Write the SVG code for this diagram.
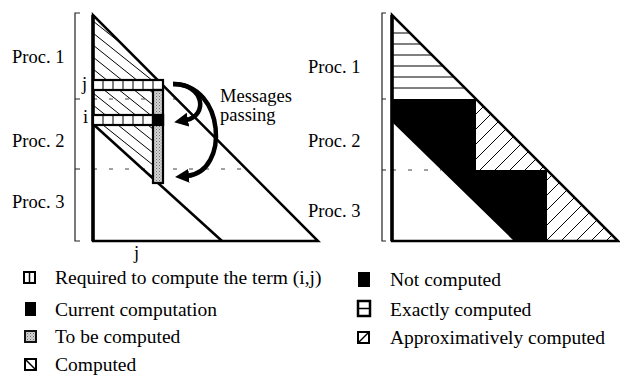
<svg xmlns="http://www.w3.org/2000/svg" width="620" height="380" viewBox="0 0 620 380">
<style>
text{font-family:"Liberation Serif","Times New Roman",serif;fill:#000}
.lbl{font-size:18.5px}
.leg{font-size:19.5px}
.msg{font-size:18.5px}
.edge{fill:none;stroke:#000;stroke-width:2.5;stroke-linejoin:miter}
.thin{stroke:#000;stroke-width:1;fill:none}
.dash{stroke:#444;stroke-width:1;stroke-dasharray:4 12;fill:none}
.br{stroke:#222;stroke-width:1.2;fill:none}
.arr{fill:none;stroke:#000;stroke-width:4.5;marker-end:url(#ah)}
.cell{fill:#fff;stroke:#000;stroke-width:2.2}
</style>
<defs>
<marker id="ah" markerUnits="userSpaceOnUse" markerWidth="14" markerHeight="14" refX="2" refY="7" orient="auto">
<path d="M0,0 L14,7 L0,14 z" fill="#000"/>
</marker>
<pattern id="stip" patternUnits="userSpaceOnUse" width="3" height="3">
<rect width="3" height="3" fill="#d4d4d4"/>
<rect x="0" y="0" width="1" height="1" fill="#6a6a6a"/>
<rect x="1.5" y="1.5" width="1" height="1" fill="#8a8a8a"/>
</pattern>
<clipPath id="cHatchL"><polygon points="93,15 153,75 153,178 93,124"/></clipPath>
<clipPath id="cTri1"><polygon points="476,99 476,170 547,170"/></clipPath>
<clipPath id="cTri2"><polygon points="547,170 547,241 618,241"/></clipPath>
</defs>

<!-- Left figure -->
<g id="left-figure">
<g id="left-scale">
<path class="br" d="M80,13 H75 V241 H80 M75,99 H80 M75,169 H80"/>
<text class="lbl" x="12" y="63">Proc. 1</text>
<text class="lbl" x="12" y="147">Proc. 2</text>
<text class="lbl" x="12" y="208">Proc. 3</text>
</g>
<g id="left-hatch" clip-path="url(#cHatchL)" class="thin">
<line x1="93" y1="21" x2="193" y2="101"/>
<line x1="93" y1="33" x2="193" y2="113"/>
<line x1="93" y1="45" x2="193" y2="125"/>
<line x1="93" y1="57" x2="193" y2="137"/>
<line x1="93" y1="69" x2="193" y2="149"/>
<line x1="93" y1="81" x2="193" y2="161"/>
<line x1="93" y1="93" x2="193" y2="173"/>
<line x1="93" y1="105" x2="193" y2="185"/>
<line x1="93" y1="117" x2="193" y2="197"/>
<line x1="93" y1="129" x2="193" y2="209"/>
</g>
<path class="dash" d="M93,99 H177 M93,169 H248"/>
<g id="left-triangle">
<polygon class="edge" points="93,15 93,241 318,241"/>
<line x1="93" y1="124" x2="222" y2="241" stroke="#000" stroke-width="2.5"/>
<line x1="93" y1="15" x2="93" y2="241" stroke="#000" stroke-width="3.5"/>
</g>
<g id="row-j">
<rect class="cell" x="93" y="80" width="70" height="10"/>
<path class="thin" d="M103,80V90M113,80V90M123,80V90M133,80V90M143,80V90M153,80V90"/>
<text class="lbl" x="82" y="90">j</text>
</g>
<g id="row-i">
<rect class="cell" x="93" y="115" width="70" height="10"/>
<path class="thin" d="M103,115V125M113,115V125M123,115V125M133,115V125M143,115V125"/>
<text class="lbl" x="83" y="123">i</text>
</g>
<g id="column-j">
<rect x="153" y="90" width="10" height="93" fill="url(#stip)" stroke="#000" stroke-width="2.2"/>
<rect x="153" y="115" width="10" height="10" fill="#000" stroke="#000" stroke-width="2.2"/>
<text class="lbl" x="134" y="259">j</text>
</g>
</g>

<g id="connectors">
<path class="arr" d="M173,84 C205,84 208,116 186,120"/>
<path class="arr" d="M173,84 C225,84 230,172 187,176"/>
</g>
<g id="messages-label">
<text class="msg" x="220" y="102">Messages</text>
<text class="msg" x="220" y="121">passing</text>
</g>

<!-- Right figure -->
<g id="right-figure">
<g id="right-scale">
<path class="br" d="M386,13 H382 V241 H386 M382,99 H386 M382,170 H386"/>
<text class="lbl" x="308" y="73">Proc. 1</text>
<text class="lbl" x="308" y="147">Proc. 2</text>
<text class="lbl" x="308" y="217">Proc. 3</text>
</g>
<g id="exact-hatch" class="thin">
<line x1="392" y1="33" x2="410" y2="33"/>
<line x1="392" y1="44" x2="421" y2="44"/>
<line x1="392" y1="55" x2="432" y2="55"/>
<line x1="392" y1="66" x2="443" y2="66"/>
<line x1="392" y1="77" x2="454" y2="77"/>
<line x1="392" y1="88" x2="465" y2="88"/>
</g>
<g id="approx-hatch" class="thin">
<g clip-path="url(#cTri1)">
<line x1="340" y1="250" x2="590" y2="0"/>
<line x1="355" y1="250" x2="605" y2="0"/>
<line x1="370" y1="250" x2="620" y2="0"/>
<line x1="385" y1="250" x2="635" y2="0"/>
<line x1="400" y1="250" x2="650" y2="0"/>
<line x1="415" y1="250" x2="665" y2="0"/>
<line x1="430" y1="250" x2="680" y2="0"/>
<line x1="445" y1="250" x2="695" y2="0"/>
<line x1="460" y1="250" x2="710" y2="0"/>
</g>
<g clip-path="url(#cTri2)">
<line x1="477" y1="250" x2="727" y2="0"/>
<line x1="492" y1="250" x2="742" y2="0"/>
<line x1="507" y1="250" x2="757" y2="0"/>
<line x1="522" y1="250" x2="772" y2="0"/>
<line x1="537" y1="250" x2="787" y2="0"/>
<line x1="552" y1="250" x2="802" y2="0"/>
<line x1="567" y1="250" x2="817" y2="0"/>
<line x1="582" y1="250" x2="832" y2="0"/>
<line x1="597" y1="250" x2="847" y2="0"/>
</g>
</g>
<path class="dash" d="M392,170 H441"/>
<polygon id="not-computed" points="392,99 476,99 476,170 547,170 547,241 514,241 392,122" fill="#000"/>
<polygon class="edge" points="392,15 392,241 618,241"/>
<line x1="392" y1="15" x2="392" y2="241" stroke="#000" stroke-width="3.5"/>
</g>

<!-- Legend -->
<g id="legend">
<g id="leg-required">
<rect x="24" y="272" width="11" height="11" fill="#fff" stroke="#000" stroke-width="2"/>
<line x1="29.5" y1="272" x2="29.5" y2="283" stroke="#000" stroke-width="1.5"/>
<text class="leg" x="55" y="284">Required to compute the term (i,j)</text>
</g>
<g id="leg-current">
<rect x="25" y="302" width="11" height="14" fill="#000"/>
<text class="leg" x="55" y="316">Current computation</text>
</g>
<g id="leg-tobe">
<rect x="25" y="331" width="11" height="11" fill="url(#stip)" stroke="#111" stroke-width="2"/>
<text class="leg" x="55" y="343">To be computed</text>
</g>
<g id="leg-computed">
<rect x="25" y="359" width="11" height="11" fill="#fff" stroke="#000" stroke-width="2"/>
<line x1="25" y1="359" x2="36" y2="370" stroke="#000" stroke-width="1.5"/>
<text class="leg" x="55" y="371">Computed</text>
</g>
<g id="leg-not">
<rect x="358" y="272" width="12" height="15" fill="#000"/>
<text class="leg" x="390" y="286">Not computed</text>
</g>
<g id="leg-exact">
<rect x="358" y="301" width="12" height="15" fill="#fff" stroke="#000" stroke-width="2.5"/>
<line x1="358" y1="308.5" x2="370" y2="308.5" stroke="#000" stroke-width="1.5"/>
<text class="leg" x="390" y="316">Exactly computed</text>
</g>
<g id="leg-approx">
<rect x="358" y="332" width="11" height="11" fill="#fff" stroke="#000" stroke-width="2"/>
<line x1="358" y1="343" x2="369" y2="332" stroke="#000" stroke-width="1.5"/>
<text class="leg" x="390" y="344">Approximatively computed</text>
</g>
</g>
</svg>
